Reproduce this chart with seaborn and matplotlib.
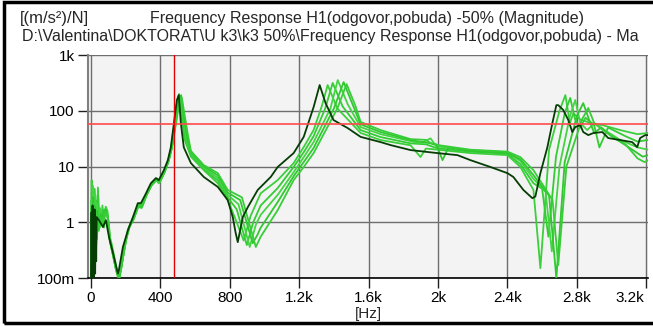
import pandas as pd
import seaborn as sns
import matplotlib.pyplot as plt
from matplotlib.patches import Rectangle
from matplotlib.transforms import ScaledTranslation

h1_ref = [(0, 0.1), (3, 1.5), (6, 0.1), (9, 2.0), (12, 0.1), (15, 1.3), (18, 0.1), (21, 1.7),
          (24, 0.12), (27, 1.1), (30, 0.2), (33, 1.24), (46, 1.09), (69, 0.82), (86, 1.09),
          (104, 0.54), (127, 0.28), (155, 0.12), (161, 0.14), (184, 0.36), (213, 0.72),
          (242, 1.24), (270, 2.2), (288, 2.2), (317, 3.3), (345, 5.0), (374, 6.2), (391, 5.7),
          (420, 8.6), (443, 13), (460, 22), (478, 60), (495, 156), (506, 191), (518, 60),
          (535, 22), (576, 11.5), (650, 6.5), (731, 4.3), (788, 2.5), (817, 1.24), (834, 0.64),
          (846, 0.44), (875, 1.24), (904, 1.87), (961, 3.8), (1036, 6.5), (1076, 9.8),
          (1168, 17.4), (1226, 34), (1283, 116), (1318, 289), (1352, 137), (1398, 68),
          (1479, 49), (1554, 34), (1669, 27.4), (1727, 24.2), (1842, 19.7), (1997, 17.4),
          (2112, 16), (2187, 13), (2302, 9.8), (2400, 7.6), (2434, 6.5), (2492, 3.8),
          (2544, 2.7), (2561, 2.9), (2590, 7.6), (2630, 22), (2659, 60), (2682, 126),
          (2693, 126), (2722, 103), (2751, 68), (2774, 41.5), (2791, 51), (2820, 55),
          (2837, 41.5), (2866, 36.6), (2895, 39.8), (2947, 41.5), (2981, 32.4), (3050, 29.8),
          (3119, 27.4), (3148, 22.3), (3165, 32.4), (3194, 36.6), (3211, 36.6)]

h1_a = [(0, 0.1), (4, 5.7), (8, 0.3), (12, 2.0), (16, 0.15), (20, 4.0), (26, 1.0), (32, 0.5),
        (40, 4.2), (48, 1.3), (58, 0.9), (66, 2.0), (75, 0.8), (85, 1.9), (95, 1.6), (105, 0.6),
        (120, 0.4), (140, 0.2), (158, 0.1), (175, 0.15), (195, 0.4), (213, 0.75), (242, 1.2),
        (270, 2.0), (290, 1.9), (317, 3.0), (345, 4.5), (374, 5.8), (391, 5.0), (420, 7.5),
        (443, 12), (460, 20), (480, 50), (495, 140), (508, 200), (522, 80), (540, 30),
        (576, 15), (650, 8.6), (731, 5.0), (788, 2.5), (830, 1.2), (880, 0.47), (920, 1.3),
        (978, 3.3), (1076, 5.7), (1168, 11.5), (1226, 22.3), (1283, 45), (1330, 120),
        (1364, 289), (1420, 110), (1554, 40), (1669, 29.8), (1842, 24), (1899, 14.8),
        (1930, 21), (2000, 20), (2187, 17.4), (2400, 16), (2475, 9.8), (2550, 3.8),
        (2590, 0.15), (2640, 20), (2700, 100), (2734, 191), (2760, 60), (2780, 90),
        (2820, 70), (2880, 60), (2950, 55), (3050, 45), (3150, 38), (3211, 40)]

h1_b = [(0, 0.12), (5, 3.5), (9, 0.2), (14, 3.0), (19, 0.3), (25, 2.5), (31, 0.6), (38, 3.0),
        (46, 1.1), (56, 1.6), (64, 0.9), (72, 1.5), (84, 1.7), (96, 1.3), (108, 0.5), (124, 0.3),
        (145, 0.14), (162, 0.1), (180, 0.2), (200, 0.45), (220, 0.8), (245, 1.1), (272, 1.9),
        (292, 1.8), (320, 3.0), (348, 4.5), (376, 5.6), (395, 5.2), (425, 8.0), (446, 12),
        (464, 20), (484, 55), (500, 150), (512, 185), (526, 85), (545, 30), (576, 16),
        (650, 9.1), (731, 5.6), (788, 2.8), (840, 1.7), (898, 0.39), (935, 1.0), (978, 2.0),
        (1076, 4.1), (1168, 9.8), (1226, 18), (1283, 35), (1350, 110), (1393, 315),
        (1450, 120), (1554, 45), (1669, 33.7), (1842, 26), (1930, 25), (1980, 22),
        (2010, 21), (2187, 18.5), (2400, 17), (2475, 11), (2550, 5), (2600, 4), (2636, 0.55),
        (2680, 15), (2730, 90), (2762, 170), (2790, 70), (2820, 50), (2850, 75), (2900, 55),
        (2930, 22), (2980, 50), (3080, 35), (3150, 28), (3211, 30)]

h1_c = [(0, 0.1), (3, 2.5), (7, 0.15), (11, 4.5), (17, 0.4), (23, 3.2), (29, 0.8), (36, 2.2),
        (44, 0.9), (52, 1.8), (62, 1.0), (70, 1.6), (82, 1.4), (94, 1.5), (106, 0.5),
        (122, 0.3), (142, 0.15), (160, 0.11), (178, 0.18), (198, 0.42), (218, 0.8), (244, 1.2),
        (271, 2.0), (291, 1.9), (318, 3.1), (346, 4.6), (375, 5.9), (393, 5.1), (422, 7.8),
        (445, 12.5), (462, 21), (486, 60), (504, 160), (516, 175), (530, 80), (550, 30),
        (576, 17), (650, 9.6), (731, 6.2), (788, 3.1), (850, 2.1), (915, 0.36), (950, 0.9),
        (978, 1.36), (1076, 3.1), (1168, 7.9), (1226, 14.7), (1283, 27.4), (1380, 110),
        (1422, 355), (1480, 130), (1554, 51), (1669, 38), (1842, 28.5), (1900, 26),
        (1957, 32), (1990, 23), (2187, 19.7), (2400, 18), (2475, 12.5), (2550, 6),
        (2620, 3.5), (2656, 0.3), (2700, 10), (2760, 80), (2791, 156), (2820, 60),
        (2860, 45), (2900, 60), (2960, 45), (3050, 30), (3150, 22), (3211, 20)]

h1_d = [(0, 0.15), (4, 1.8), (8, 0.1), (13, 2.8), (18, 0.2), (24, 1.9), (30, 0.4), (37, 1.6),
        (45, 0.7), (55, 1.4), (65, 1.2), (76, 1.7), (88, 1.5), (100, 1.1), (110, 0.45),
        (128, 0.25), (150, 0.12), (165, 0.1), (183, 0.22), (203, 0.5), (222, 0.85),
        (248, 1.2), (274, 2.0), (294, 1.9), (321, 3.2), (349, 4.7), (377, 6.0), (396, 5.3),
        (425, 8.2), (448, 13), (466, 22), (490, 65), (508, 170), (520, 190), (534, 85),
        (555, 32), (576, 18), (650, 10.1), (731, 6.9), (788, 3.4), (860, 2.5), (932, 0.42),
        (960, 0.6), (978, 0.8), (1076, 2.3), (1168, 6.7), (1226, 12), (1283, 21.5),
        (1400, 110), (1456, 327), (1510, 125), (1554, 57), (1669, 41.5), (1842, 29.8),
        (1990, 25), (2026, 13), (2060, 22), (2187, 19), (2400, 17.5), (2475, 13.5),
        (2550, 7), (2640, 3), (2682, 0.1), (2730, 12), (2800, 80), (2837, 137), (2870, 70),
        (2900, 40), (2940, 50), (3000, 35), (3100, 22), (3180, 15), (3211, 16)]

h1_e = [(0, 0.1), (5, 1.2), (10, 0.12), (15, 2.2), (21, 0.3), (27, 1.5), (34, 0.5), (42, 1.3),
        (50, 0.8), (60, 1.2), (70, 0.9), (80, 1.5), (92, 1.4), (102, 1.0), (114, 0.4),
        (132, 0.22), (152, 0.11), (168, 0.12), (186, 0.25), (206, 0.55), (226, 0.9),
        (252, 1.3), (277, 2.1), (297, 2.0), (324, 3.3), (352, 4.8), (380, 6.1), (399, 5.4),
        (428, 8.5), (450, 13.5), (468, 23), (494, 70), (512, 165), (524, 170), (538, 90),
        (560, 35), (576, 19), (650, 10.6), (731, 7.6), (788, 3.8), (870, 2.8), (950, 0.36),
        (978, 0.55), (1076, 1.65), (1168, 5.7), (1226, 9.8), (1283, 17.4), (1420, 110),
        (1473, 301), (1525, 120), (1554, 63), (1669, 45), (1842, 31), (1930, 30),
        (1970, 25), (2187, 20), (2400, 18.5), (2475, 14.7), (2550, 8.6), (2660, 2.5),
        (2693, 0.17), (2740, 10), (2830, 70), (2866, 112), (2900, 60), (2950, 45),
        (3000, 35), (3080, 25), (3150, 14), (3190, 12), (3211, 13)]

curves = {'a': h1_a, 'b': h1_b, 'c': h1_c, 'd': h1_d, 'e': h1_e, 'ref': h1_ref}
colors = {'a': '#3ccf3c', 'b': '#33cc33', 'c': '#44d444', 'd': '#2fc82f', 'e': '#38cd38',
          'ref': '#053d05'}

rows = []
for name, pts in curves.items():
    for i, (f, m) in enumerate(pts):
        rows.append({'curve': name, 'order': i, 'freq': f, 'mag': m})
df = pd.DataFrame(rows)

x_ticks = [0, 400, 800, 1200, 1600, 2000, 2400, 2800, 3200]
x_labels = ['0', '400', '800', '1.2k', '1.6k', '2k', '2.4k', '2.8k', '3.2k']
y_ticks = [0.1, 1, 10, 100, 1000]
y_labels = ['100m', '1', '10', '100', '1k']
cursor_level = 57.5
cursor_freq = 478

sns.set_style('white')
plt.rcParams['font.family'] = ['Liberation Sans', 'DejaVu Sans']

fig = plt.figure(figsize=(6.53, 3.27), dpi=100)
ax = fig.add_axes([0.1348, 0.1498, 0.8575, 0.682])
ax.set_facecolor('#f3f3f3')

for name in curves:
    sns.lineplot(data=df[df['curve'] == name], x='freq', y='mag', color=colors[name],
                 estimator=None, sort=False, linewidth=1.3, ax=ax, legend=False, zorder=3)

ax.set_yscale('log')
ax.set_ylim(0.1, 1000)
ax.set_xlim(-17, 3210)
ax.set_xticks(x_ticks)
ax.set_xticklabels(x_labels)
ax.set_yticks(y_ticks)
ax.set_yticklabels(y_labels)
ax.minorticks_off()
ax.tick_params(axis='both', direction='out', length=7, width=1, color='#202020',
               labelsize=11, labelcolor='#000000', pad=2.5, left=True, bottom=True)
ax.grid(True, color='#6e6e6e', linewidth=1)
ax.set_axisbelow(True)
for side in ['top', 'right']:
    ax.spines[side].set_visible(False)
ax.spines['left'].set_color('#808080')
ax.spines['left'].set_linewidth(1.5)
ax.spines['bottom'].set_color('#000000')
ax.spines['bottom'].set_linewidth(1.2)

ax.axhline(cursor_level, color='#ff4a4a', linewidth=1.2, zorder=4)
ax.axvline(cursor_freq, color='#e00000', linewidth=1.0, zorder=4)

last = ax.get_xticklabels()[-1]
last.set_horizontalalignment('right')
last.set_transform(last.get_transform() + ScaledTranslation(-1.5 / 72, 0, fig.dpi_scale_trans))

ax.set_xlabel('[Hz]', fontsize=11, labelpad=1)
ax.set_ylabel('')

fig.text(20 / 653, 1 - 18 / 327, '[(m/s²)/N]', fontsize=12, va='center', ha='left')
fig.text(367 / 653, 1 - 18 / 327, 'Frequency Response H1(odgovor,pobuda) -50% (Magnitude)',
         fontsize=11.5, va='center', ha='center')
# the window shows the file path cut off at the right edge
fig.text(22 / 653, 1 - 37 / 327,
         'D:\\Valentina\\DOKTORAT\\U k3\\k3 50%\\Frequency Response H1(odgovor,pobuda) - Ma',
         fontsize=11.5, va='center', ha='left')

fig.patches.append(Rectangle((4 / 653, 4 / 327), 1.2, 1 - 6 / 327, transform=fig.transFigure,
                             fill=False, edgecolor='black', linewidth=2.5))

plt.savefig('out.png', dpi=100)
